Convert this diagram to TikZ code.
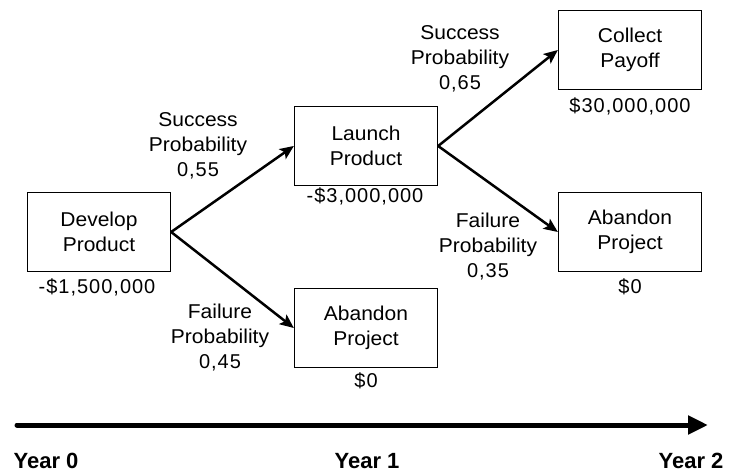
\documentclass[tikz,border=0pt]{standalone}
\usepackage{fontspec}
\setmainfont[FakeStretch=1.05]{Liberation Sans}
\newfontfamily\numfont[LetterSpace=5]{Liberation Sans}
\newfontfamily\yrfont{Liberation Sans}
\usetikzlibrary{arrows.meta}
\tikzset{
  box/.style={draw, line width=1.3pt, minimum width=143pt, minimum height=79pt, align=center, inner sep=0pt, font=\fontsize{20}{25}\selectfont},
  lbl/.style={align=center, inner sep=0pt, font=\fontsize{20}{25}\selectfont},
  val/.style={inner sep=0pt, font=\fontsize{20}{24}\selectfont\numfont},
  conn/.style={line width=2.5pt, -{Stealth[length=14pt,width=12pt,inset=3pt]}},
  yr/.style={inner sep=0pt, font=\fontsize{22}{24}\selectfont\yrfont\bfseries}
}
\begin{document}
\begin{tikzpicture}[x=1pt,y=-1pt]
\useasboundingbox (0,0) rectangle (730,473);
\node[box] (dev) at (99,232) {Develop\\Product};
\node[box] (launch) at (366,146) {Launch\\Product};
\node[box] (aban1) at (366,328) {Abandon\\Project};
\node[box] (collect) at (630,50) {Collect\\Payoff};
\node[box] (aban2) at (630,232) {Abandon\\Project};

\node[val] (v1) at (97,287) {-\$1,500,000};
\node[val] (v2) at (365,196) {-\$3,000,000};
\node[val] (v3) at (630,106) {\$30,000,000};
\node[val] (v4) at (630,287) {\$0};
\node[val] (v5) at (366,381) {\$0};

\node[lbl] (p1) at (198,146) {Success\\Probability\\{\numfont 0,55}};
\node[lbl] (p2) at (220,338) {Failure\\Probability\\{\numfont 0,45}};
\node[lbl] (p3) at (460,59) {Success\\Probability\\{\numfont 0,65}};
\node[lbl] (p4) at (488,247) {Failure\\Probability\\{\numfont 0,35}};

\draw[conn] (dev.east) -- (launch.west);
\draw[conn] (dev.east) -- (aban1.west);
\draw[conn] (launch.east) -- (collect.west);
\draw[conn] (launch.east) -- (aban2.west);

\coordinate (t0) at (17,425);
\coordinate (t1) at (708,425);
\draw[line width=5pt, line cap=round, -{Triangle[length=20pt,width=18pt]}] (t0) -- (t1);
\node[yr] (y0) at (46,461) {Year 0};
\node[yr] (y1) at (367,461) {Year 1};
\node[yr] (y2) at (691,461) {Year 2};
\end{tikzpicture}
\end{document}
